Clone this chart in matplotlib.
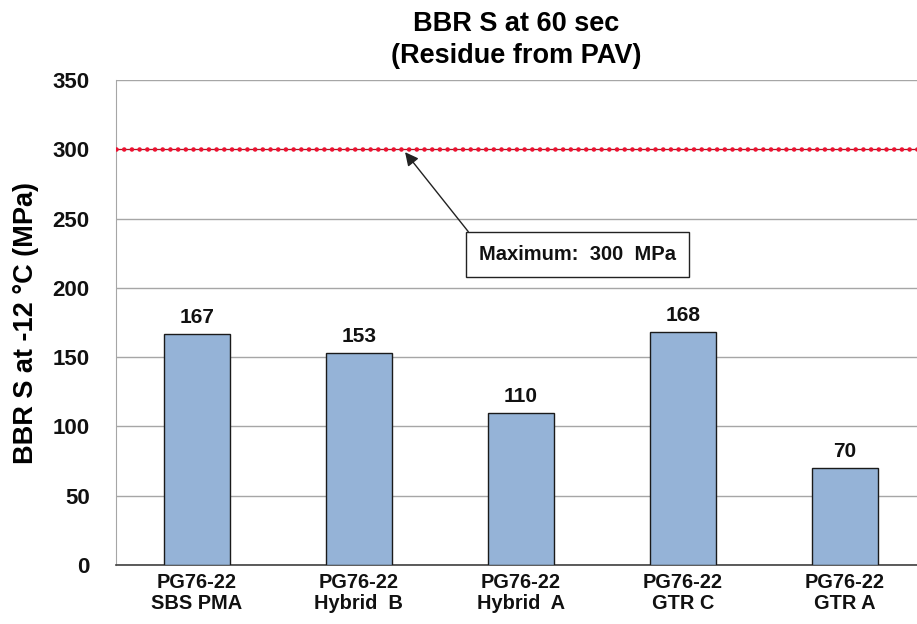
import matplotlib
matplotlib.use("Agg")
import matplotlib.pyplot as plt

categories = ["PG76-22\nSBS PMA", "PG76-22\nHybrid  B", "PG76-22\nHybrid  A",
              "PG76-22\nGTR C", "PG76-22\nGTR A"]
stiffness = [167, 153, 110, 168, 70]
limit_value = 300
y_ticks = [0, 50, 100, 150, 200, 250, 300, 350]

plt.rcParams['font.family'] = ['Liberation Sans', 'DejaVu Sans']
plt.rcParams['font.weight'] = 'bold'

fig = plt.figure(figsize=(9.17, 6.24), dpi=100)
ax = fig.add_axes([0.1265, 0.0946, 0.883, 0.777])

x = range(len(categories))
ax.bar(x, stiffness, width=0.41, color='#95b3d7', edgecolor='#1a1a1a',
       linewidth=1.0, zorder=3)
for xi, v in zip(x, stiffness):
    ax.text(xi, v + 5, f"{v}", ha='center', va='bottom', fontsize=15,
            fontweight='bold', color='#111111')

ax.set_xlim(-0.5, len(categories) - 0.5)
ax.set_ylim(0, 350)
ax.set_yticks(y_ticks)
ax.set_xticks(list(x))
ax.set_xticklabels(categories, fontsize=14.4, fontweight='bold', linespacing=1.1)
ax.tick_params(axis='both', length=0, colors='#111111')
ax.tick_params(axis='x', pad=6)
ax.tick_params(axis='y', labelsize=16, pad=19)
for lbl in ax.get_yticklabels():
    lbl.set_fontweight('bold')

ax.grid(axis='y', color='#a6a6a6', linewidth=1.0, zorder=0)
ax.set_axisbelow(True)
for side in ['top', 'right']:
    ax.spines[side].set_visible(False)
ax.spines['left'].set_color('#a6a6a6')
ax.spines['bottom'].set_color('#404040')
ax.spines['bottom'].set_linewidth(1.2)

# specification limit: thin dark-red line with round red dots
ax.axhline(limit_value, color='#b0101c', linewidth=0.8, zorder=4)
ax.axhline(limit_value, color='#ee1030', linestyle=(0, (0.01, 1.67)),
           linewidth=3.3, dash_capstyle='round', zorder=4)

ax.annotate("Maximum:  300  MPa", xy=(1.285, 298), xytext=(2.35, 224),
            ha='center', va='center', fontsize=14.5, fontweight='bold',
            color='#111111',
            bbox=dict(boxstyle='square,pad=0.65', fc='white', ec='#222222', lw=1.0),
            arrowprops=dict(arrowstyle='-|>', color='#222222', lw=1.0,
                            mutation_scale=20, shrinkA=0, shrinkB=0,
                            relpos=(0, 1)),
            zorder=5)

ax.set_ylabel("BBR S at -12 °C (MPa)", fontsize=19.5, fontweight='bold')
ax.yaxis.set_label_coords(-0.0945, 0.5)

fig.text(0.5625, 0.982, "BBR S at 60 sec\n(Residue from PAV)", ha='center',
         va='top', fontsize=19.5, fontweight='bold', linespacing=1.3)

fig.savefig("out.png", dpi=100)
